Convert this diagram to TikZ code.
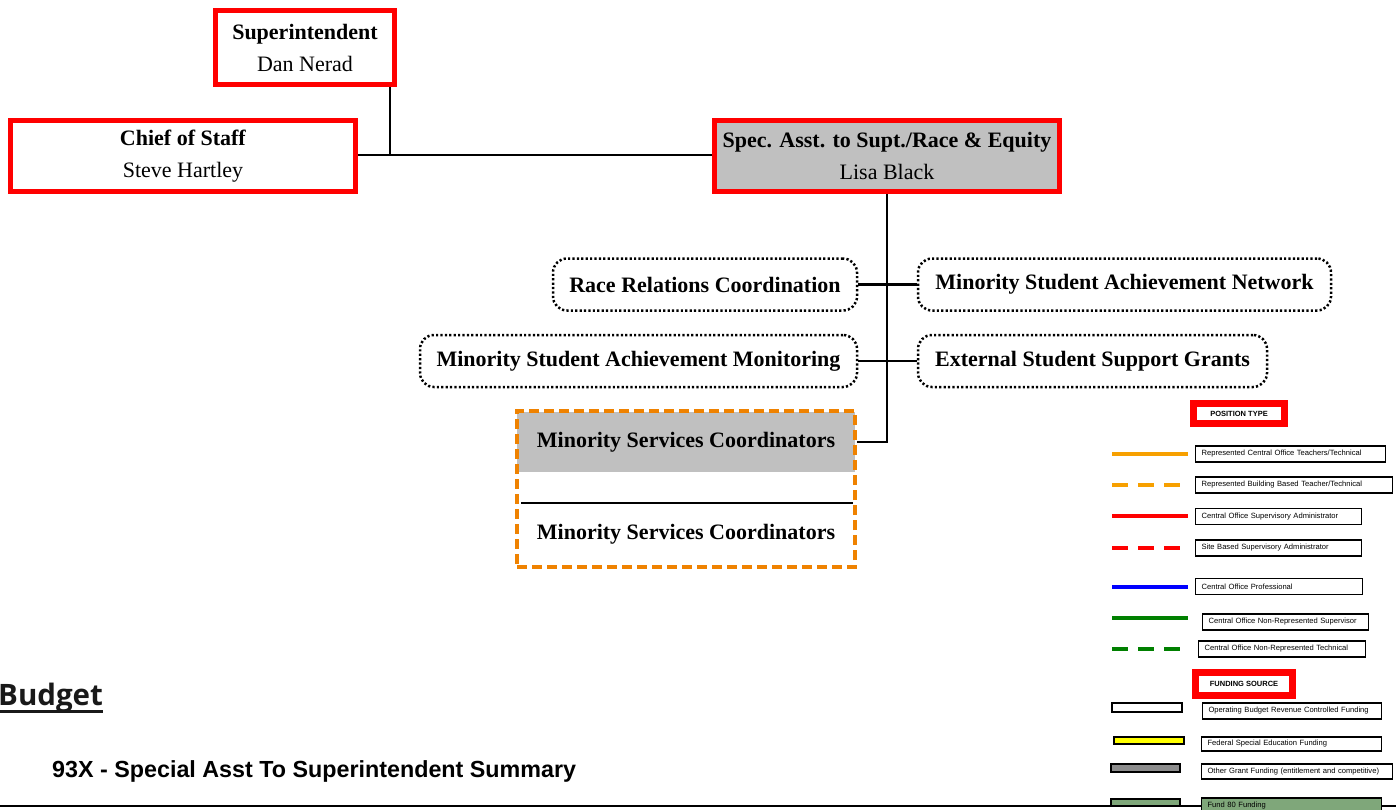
\documentclass[tikz,border=0pt]{standalone}
\usepackage{fontspec}
\setmainfont{Liberation Serif}
\newfontfamily\arialfont{Liberation Sans}
\newfontfamily\opensansfont{Open Sans}
\definecolor{boxgray}{HTML}{C0C0C0}
\definecolor{posred}{HTML}{FF0000}
\definecolor{boxorange}{HTML}{EF8200}
\definecolor{legorange}{HTML}{F7A000}
\definecolor{legblue}{HTML}{0000FF}
\definecolor{leggreen}{HTML}{008000}
\definecolor{legyellow}{HTML}{FFFF00}
\definecolor{leggray}{HTML}{8C8C8C}
\definecolor{fundgreen}{HTML}{7FA77A}
\begin{document}
\begin{tikzpicture}[x=1pt,y=-1pt,
  orgfont/.style={font=\fontsize{22}{32}\selectfont},
  redbox/.style={draw=posred, line width=5pt, inner sep=0pt, align=center, orgfont},
  dotbox/.style={draw, line width=2.5pt, dash pattern=on 2.2pt off 2.2pt, rounded corners=14pt,
                 inner sep=0pt, minimum height=52pt, font=\fontsize{22}{32}\selectfont\bfseries},
  link/.style={draw, line width=2.6pt},
  legfont/.style={font=\arialfont\fontsize{7.6}{9}\selectfont},
  legbox/.style={draw, line width=1.1pt, anchor=west, inner xsep=6pt, inner ysep=0pt,
                 minimum height=16pt, align=left, legfont},
  legtitle/.style={draw=posred, line width=7pt, inner sep=0pt, align=center,
                   font=\arialfont\bfseries\fontsize{7.5}{9}\selectfont},
  legline/.style={line width=4pt},
  legdash/.style={line width=4pt, dash pattern=on 16pt off 10pt},
  swatch/.style={draw, line width=1.1pt}
]
\useasboundingbox (0,0) rectangle (1396,809);

% --- top of the organisation chart ---
\node[redbox, minimum width=179pt, minimum height=74pt] (supt) at (305,47.5)
  {\textbf{Superintendent}\\Dan Nerad};
\node[redbox, minimum width=345pt, minimum height=71pt] (cos) at (183,156)
  {\textbf{Chief of Staff}\\Steve Hartley};
\node[redbox, fill=boxgray, minimum width=345pt, minimum height=71pt] (spec) at (887,156)
  {\textbf{Spec. Asst. to Supt./Race \& Equity}\\Lisa Black};

\coordinate (tee) at (390,155);
\draw[link] (supt.south -| tee) -- (tee);
\draw[link] (cos.east |- tee) -- (spec.west |- tee);

% --- units under the special assistant ---
\node[dotbox, minimum width=304pt] (rrc) at (705,284.5) {Race Relations Coordination};
\node[dotbox, minimum width=413pt] (msan) at (1124.5,284.5) {Minority Student Achievement Network};
\node[dotbox, minimum width=437pt] (msam) at (638.5,361) {Minority Student Achievement Monitoring};
\node[dotbox, minimum width=349pt] (essg) at (1092.5,361) {External Student Support Grants};

\draw[link] (rrc.east) -- (msan.west);
\draw[link] (msam.east) -- (essg.west);

% --- minority services coordinators ---
\node[fill=boxgray, inner sep=0pt, minimum width=338pt, minimum height=60pt,
      font=\fontsize{22}{32}\selectfont\bfseries] (msc1) at (686,442) {Minority Services Coordinators};
\node[inner sep=0pt, font=\fontsize{22}{32}\selectfont\bfseries] (msc2) at (686,534) {Minority Services Coordinators};
\node[draw=boxorange, line width=4.5pt, dash pattern=on 10pt off 5pt, inner sep=0pt,
      minimum width=338pt, minimum height=156pt] (mscframe) at (686,489) {};
\coordinate (sepL) at (521,503);
\coordinate (sepR) at (853,503);
\draw[line width=2.2pt] (sepL) -- (sepR);

\draw[link] (spec.south) |- (msc1 -| mscframe.east);

% --- legend: position type ---
\node[legtitle, minimum width=91pt, minimum height=20pt] (postype) at (1239,413.5) {POSITION TYPE};

\draw[legline, legorange] (1112,454) -- (1188,454);
\node[legbox, text width=178pt] (l1) at (1195,454) {Represented Central Office Teachers/Technical};
\draw[legdash, legorange] (1112,485) -- (1181,485);
\node[legbox, text width=185pt] (l2) at (1195,485) {Represented Building Based Teacher/Technical};
\draw[legline, posred] (1112,516) -- (1188,516);
\node[legbox, text width=154pt] (l3) at (1195,516.5) {Central Office Supervisory Administrator};
\draw[legdash, posred] (1112,548) -- (1181,548);
\node[legbox, text width=154pt] (l4) at (1195,548) {Site Based Supervisory Administrator};
\draw[legline, legblue] (1112,587) -- (1188,587);
\node[legbox, text width=155pt] (l5) at (1195,586.5) {Central Office Professional};
\draw[legline, leggreen] (1112,618) -- (1188,618);
\node[legbox, text width=154pt] (l6) at (1202,622) {Central Office Non-Represented Supervisor};
\draw[legdash, leggreen] (1112,649) -- (1181,649);
\node[legbox, text width=155pt] (l7) at (1198,649) {Central Office Non-Represented Technical};

% --- legend: funding source ---
\node[legtitle, minimum width=97pt, minimum height=23pt] (fundsrc) at (1244,684) {FUNDING SOURCE};

\draw[swatch, fill=white] (1112,703) rectangle (1182,712);
\node[legbox, text width=167pt] (f1) at (1202,711) {Operating Budget Revenue Controlled Funding};
\draw[swatch, fill=legyellow] (1114,737) rectangle (1184,744);
\node[legbox, text width=168pt, minimum height=14pt] (f2) at (1201,744) {Federal Special Education Funding};
\draw[swatch, fill=leggray] (1111,764) rectangle (1180,772);
\node[legbox, text width=179pt, minimum height=15pt] (f3) at (1201,771.5) {Other Grant Funding (entitlement and competitive)};

% --- budget heading ---
\node[anchor=base west, inner sep=0pt, font=\opensansfont\bfseries\fontsize{29.5}{32}\selectfont,
      text=black!90] (budget) at (-2,705) {Budget};
\draw[line width=3pt, black!90] ([yshift=-6.5pt]budget.base west) -- ([yshift=-6.5pt]budget.base east);
\node[anchor=base west, inner sep=0pt, font=\arialfont\bfseries\fontsize{23.3}{26}\selectfont] (summary)
  at (52,777) {93X - Special Asst To Superintendent Summary};

\coordinate (ruleL) at (0,806);
\coordinate (ruleR) at (1396,806);
\draw[line width=1.5pt] (ruleL) -- (ruleR);

\draw[swatch, fill=fundgreen] (1111,799) rectangle (1180,806);
\node[legbox, fill=fundgreen, text width=168pt, minimum height=16pt] (f4) at (1201,806) {Fund 80 Funding};
\end{tikzpicture}
\end{document}
